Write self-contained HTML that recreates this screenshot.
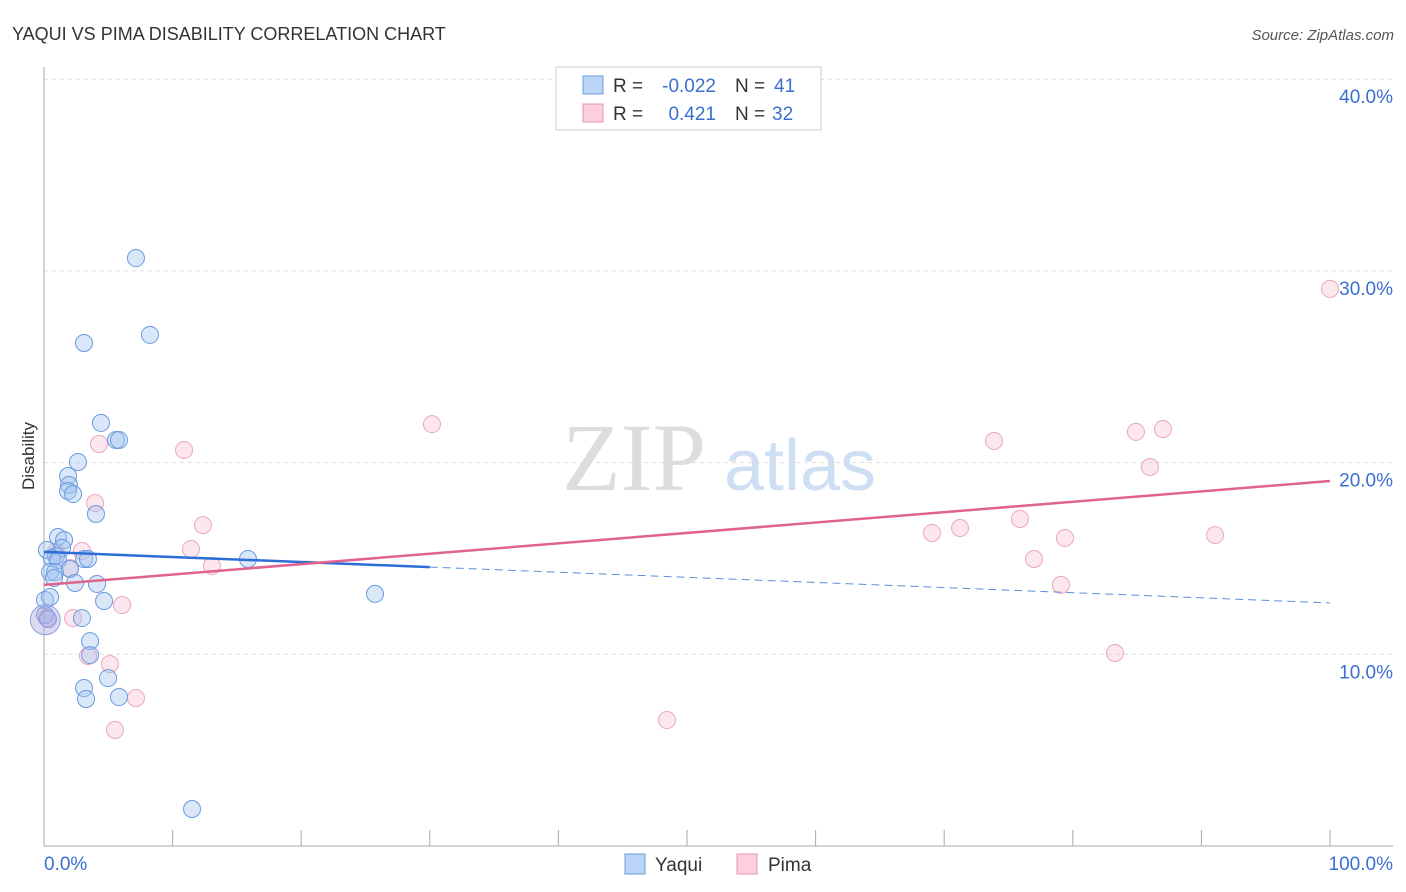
<!DOCTYPE html><html><head><meta charset="utf-8"><style>body{margin:0;background:#fff;font-family:"Liberation Sans",sans-serif}</style></head><body>
<svg id="c" width="1406" height="892" style="display:block">
<text x="12" y="40" font-size="18" fill="#333">YAQUI VS PIMA DISABILITY CORRELATION CHART</text>
<text x="1394" y="40" font-size="15" fill="#555" font-style="italic" text-anchor="end">Source: ZipAtlas.com</text>
<text x="634" y="490" font-size="96" fill="#ddd" font-family="Liberation Serif" text-anchor="middle">ZIP</text>
<text x="800" y="490" font-size="72" fill="#cfdff3" text-anchor="middle">atlas</text>
<text transform="translate(34,456) rotate(-90)" font-size="17" fill="#333" text-anchor="middle">Disability</text>
<g id="grid"></g><g id="pts"></g><g id="lines"></g>
<g>
<rect x="556" y="67" width="265" height="63" fill="#fff" stroke="#ccc"/>
<rect x="583" y="76" width="20" height="18" fill="#bcd5f7" stroke="#6a9de0"/>
<rect x="583" y="104" width="20" height="18" fill="#fbd0dc" stroke="#e895b0"/>
<text x="613" y="92" font-size="19" fill="#333">R =</text>
<text x="716" y="92" font-size="19" fill="#3a6fd0" text-anchor="end">-0.022</text>
<text x="735" y="92" font-size="19" fill="#333">N =</text>
<text x="774" y="92" font-size="19" fill="#3a6fd0">41</text>
<text x="613" y="120" font-size="19" fill="#333">R =</text>
<text x="716" y="120" font-size="19" fill="#3a6fd0" text-anchor="end">0.421</text>
<text x="735" y="120" font-size="19" fill="#333">N =</text>
<text x="772" y="120" font-size="19" fill="#3a6fd0">32</text>
</g>
<g>
<rect x="625" y="854" width="20" height="20" fill="#bcd5f7" stroke="#6a9de0"/>
<text x="655" y="871" font-size="19" fill="#333">Yaqui</text>
<rect x="737" y="854" width="20" height="20" fill="#fbd0dc" stroke="#e895b0"/>
<text x="768" y="871" font-size="19" fill="#333">Pima</text>
</g>
</svg>
<script>
const yTicks=[10,20,30,40];
const yTickLabels=["10.0%","20.0%","30.0%","40.0%"];
const yaquiX=[7.15,3.11,8.24,4.43,5.60,5.83,2.64,1.87,1.94,1.87,2.26,4.04,1.09,1.56,1.40,0.23,0.93,0.62,1.09,3.11,3.42,15.86,0.47,0.86,2.02,0.78,2.41,4.12,4.67,0.08,0.47,25.74,0.08,0.31,2.95,3.58,3.58,3.11,4.98,3.27,5.83,11.51];
const yaquiY=[30.67,26.24,26.66,22.07,21.18,21.18,20.03,19.30,18.83,18.52,18.36,17.32,16.12,15.96,15.55,15.44,15.13,15.02,14.92,14.97,14.97,14.97,14.29,14.29,14.45,13.98,13.72,13.67,12.78,12.83,12.99,13.15,12.05,11.84,11.89,10.69,9.96,8.24,8.76,7.67,7.77,1.93];
const pimaX=[100,30.17,10.89,4.28,73.87,84.91,87.01,86.0,3.97,12.36,75.89,69.05,71.23,79.39,91.06,11.43,2.95,0.93,76.98,13.06,2.02,79.08,6.07,2.26,0.23,3.42,5.13,83.28,7.15,48.44,5.52];
const pimaY=[29.06,22.01,20.66,20.97,21.13,21.6,21.75,19.77,17.89,16.74,17.06,16.33,16.59,16.07,16.22,15.49,15.39,15.34,14.97,14.61,14.50,13.62,12.57,11.89,11.89,9.91,9.49,10.07,7.72,6.57,6.05];
const yaquiTrend=[[0,15.34],[30,14.55],[100,12.68]];
const pimaTrend=[[0,13.62],[100,19.04]];
const X=v=>44+v*12.86, Y=v=>846-v*19.17;
const NS="http://www.w3.org/2000/svg";
function mk(t,a,p){const e=document.createElementNS(NS,t);for(const k in a)e.setAttribute(k,a[k]);p.appendChild(e);return e;}
const g=document.getElementById('grid');
yTicks.forEach((t,i)=>{const l=mk('line',{x1:44,x2:1393,y1:Y(t),y2:Y(t),stroke:'#ddd','stroke-dasharray':'4,4'},g);


const tx=mk('text',{x:1393,y:Y(t)+24,'font-size':19,fill:'#3a6fd0','text-anchor':'end'},g);tx.textContent=yTickLabels[i];

});
mk('line',{x1:44,x2:44,y1:67,y2:846,stroke:'#aaa'},g);
mk('line',{x1:44,x2:1393,y1:846,y2:846,stroke:'#aaa'},g);
for(let i=1;i<=10;i++){const t=mk('line',{x1:X(i*10),x2:X(i*10),y1:830,y2:846,stroke:'#aaa'},g);

}
[["0.0%",44,'start'],["100.0%",1393,'end']].forEach(a=>{const t=mk('text',{x:a[1],y:870,'font-size':19,fill:'#3a6fd0','text-anchor':a[2]},g);t.textContent=a[0];

});
const p=document.getElementById('pts');
function dots(xs,ys,f,s,n){xs.forEach((x,i)=>{const c=mk('circle',{cx:X(x),cy:Y(ys[i]),r:8.5,fill:f,stroke:s,'stroke-width':1},p);

});}
dots(pimaX,pimaY,'rgba(248,185,205,0.35)','#eaa6bc','pima-point');
dots(yaquiX,yaquiY,'rgba(160,195,240,0.4)','#6a9ae0','yaqui-point');
const big=mk('circle',{cx:X(0.1),cy:Y(11.8),r:15,fill:'rgba(170,160,220,0.4)',stroke:'#8aa0e0'},p);


const L=document.getElementById('lines');
const b1=mk('line',{x1:X(yaquiTrend[0][0]),y1:Y(yaquiTrend[0][1]),x2:X(yaquiTrend[1][0]),y2:Y(yaquiTrend[1][1]),stroke:'#2a6fd6','stroke-width':2.5},L);


const b2=mk('line',{x1:X(yaquiTrend[1][0]),y1:Y(yaquiTrend[1][1]),x2:X(yaquiTrend[2][0]),y2:Y(yaquiTrend[2][1]),stroke:'#5b8fdc','stroke-width':1,'stroke-dasharray':'8,5'},L);


const pl=mk('line',{x1:X(pimaTrend[0][0]),y1:Y(pimaTrend[0][1]),x2:X(pimaTrend[1][0]),y2:Y(pimaTrend[1][1]),stroke:'#e0628e','stroke-width':2.5},L);


</script></body></html>
